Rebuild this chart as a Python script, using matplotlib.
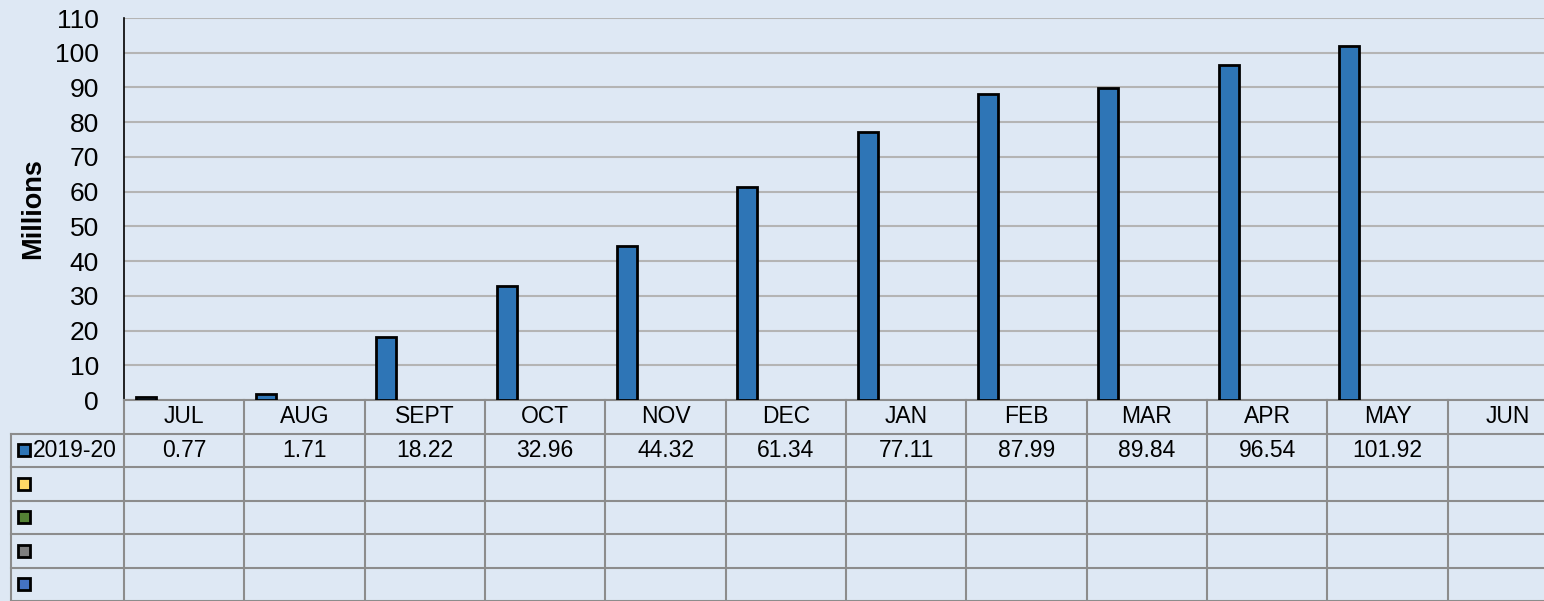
import matplotlib
matplotlib.use('Agg')
import matplotlib.pyplot as plt
import matplotlib.transforms as mtransforms
from matplotlib.lines import Line2D
import numpy as np

######################  Data  ######################

months = ['JUL', 'AUG', 'SEPT', 'OCT', 'NOV', 'DEC', 'JAN', 'FEB', 'MAR', 'APR', 'MAY', 'JUN']
series_names = ['2019-20', '', '', '', '']
series_colors = ['#2E75B6', '#FFD966', '#548235', '#7F7F7F', '#4472C4']
values_2019_20 = [0.77, 1.71, 18.22, 32.96, 44.32, 61.34, 77.11, 87.99, 89.84, 96.54, 101.92, None]
yticks = list(range(0, 111, 10))

######################  Figure  ######################

plt.rcParams['font.family'] = ['Liberation Sans', 'DejaVu Sans']
W, H = 1544, 601
bg = '#DEE8F4'
grid_c = '#B4B4B4'
table_c = '#8C8C8C'
table_fs = 16.5

fig = plt.figure(figsize=(W / 100, H / 100), dpi=100, facecolor=bg)

# plot area in pixels; the right edge runs past the image like the original
left, right, top, bottom = 124, 1568, 18, 400
ax = fig.add_axes([left / W, 1 - bottom / H, (right - left) / W, (bottom - top) / H])
ax.set_facecolor(bg)

x = np.arange(len(months))
vals = [np.nan if v is None else v for v in values_2019_20]
ax.bar(x - 0.32, vals, width=0.166, color=series_colors[0],
       edgecolor='black', linewidth=2.0, zorder=3)

ax.set_xlim(-0.5, len(months) - 0.5)
ax.set_ylim(0, 110)
ax.set_yticks(yticks)
ax.grid(axis='y', color=grid_c, linewidth=1.5, zorder=0)
ax.tick_params(axis='y', length=0, pad=18, labelsize=19)
ax.set_xticks([])
for s in ['top', 'right']:
    ax.spines[s].set_visible(False)
ax.spines['left'].set_color('black')
ax.spines['left'].set_linewidth(1.2)
ax.spines['bottom'].set_color(table_c)
ax.spines['bottom'].set_linewidth(1.5)

fig.text(33 / W, 1 - 209 / H, 'Millions', rotation=90, fontsize=19.5,
         fontweight='bold', ha='center', va='center')

######################  Data table  ######################

def fy(py):
    return 1 - py / H

xt = mtransforms.blended_transform_factory(ax.transData, fig.transFigure)
row_h = 33.5
n_rows = 1 + len(series_names)
row_tops = [bottom + k * row_h for k in range(n_rows + 1)]

# horizontal lines
for k in range(1, n_rows + 1):
    fig.add_artist(Line2D([11 / W, 1.0], [fy(row_tops[k])] * 2,
                          color=table_c, linewidth=1.5, transform=fig.transFigure))
# vertical lines
for i in range(len(months) + 1):
    fig.add_artist(Line2D([i - 0.5] * 2, [fy(bottom), fy(H + 2)],
                          color=table_c, linewidth=1.5, transform=xt))
fig.add_artist(Line2D([11 / W] * 2, [fy(row_tops[1]), fy(H + 2)],
                      color=table_c, linewidth=1.5, transform=fig.transFigure))

# header row
for i, m in enumerate(months):
    fig.text(i, fy(bottom + row_h / 2), m, transform=xt, ha='center',
             va='center', fontsize=table_fs)

# series rows
for r, (name, col) in enumerate(zip(series_names, series_colors)):
    yc = fy(row_tops[r + 1] + row_h / 2)
    fig.add_artist(Line2D([24 / W], [yc], marker='s', markersize=8.5,
                          markerfacecolor=col, markeredgecolor='black',
                          markeredgewidth=2.0, transform=fig.transFigure))
    fig.text(33 / W, yc, name, ha='left', va='center', fontsize=table_fs)
    if r == 0:
        for i, v in enumerate(values_2019_20):
            if v is not None:
                fig.text(i, yc, f'{v:.2f}', transform=xt, ha='center',
                         va='center', fontsize=table_fs)

fig.savefig('out.png', dpi=100, facecolor=bg)
